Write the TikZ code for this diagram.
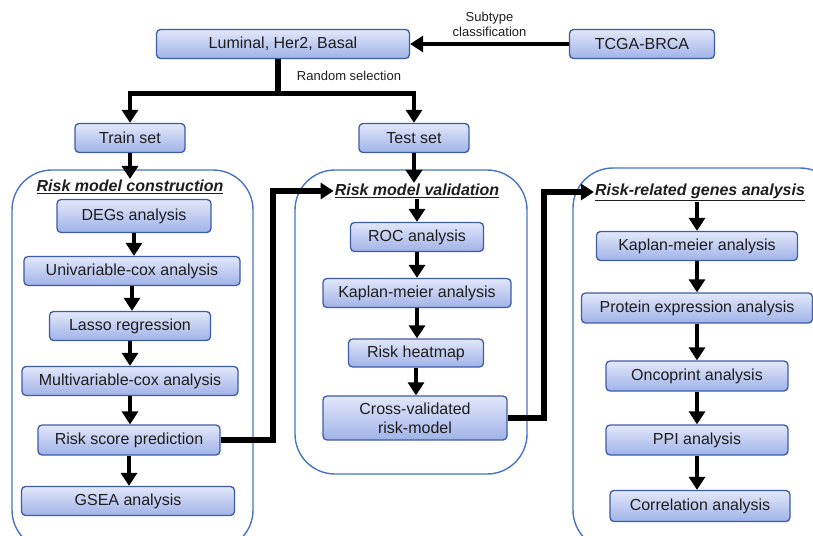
\documentclass[tikz,border=0pt]{standalone}
\usepackage{fontspec}
\setmainfont{Liberation Sans}
\usetikzlibrary{arrows.meta,positioning}
\definecolor{boxtop}{RGB}{226,232,250}
\definecolor{boxbot}{RGB}{160,178,232}
\definecolor{boxline}{RGB}{62,92,166}
\definecolor{frameblue}{RGB}{72,116,200}
\definecolor{txtgray}{RGB}{30,30,30}
\tikzset{
  stepbox/.style={rounded corners=4pt, draw=boxline, line width=1.3pt,
      top color=boxtop, bottom color=boxbot, inner sep=0pt,
      minimum height=29pt, text=txtgray, font=\fontsize{16}{19}\selectfont, align=center},
  framebox/.style={draw=frameblue, line width=1.4pt, rounded corners=40pt},
  headline/.style={font=\fontsize{16}{19}\selectfont\bfseries\itshape, text=txtgray, inner sep=1pt},
  smalltxt/.style={font=\fontsize{13}{15}\selectfont, text=txtgray},
  flowarrow/.style={-{Triangle[length=13pt,width=16pt]}, line width=4.8pt, black},
  elbowline/.style={line width=6pt, black}
}
\begin{document}
\begin{tikzpicture}[x=1pt, y=-1pt]
\useasboundingbox (0,0) rectangle (813,535);
\clip (0,0) rectangle (813,535);
% frames
\draw[framebox] (12,170) rectangle (253,550);
\draw[framebox] (295,170) rectangle (527,474);
\draw[framebox] (573,168) rectangle (840,550);

% top row
\node[stepbox, minimum width=253pt] (lum) at (283,44) {Luminal, Her2, Basal};
\node[stepbox, minimum width=145pt] (tcga) at (642,44) {TCGA-BRCA};
\node[stepbox, minimum width=110pt] (train) at (130,138) {Train set};
\node[stepbox, minimum width=110pt] (test) at (414,138) {Test set};

% construction
\node[headline] (hcon) at (130,187) {\underline{Risk model construction}};
\node[stepbox, minimum width=154pt, minimum height=33pt] (degs) at (134,216) {DEGs analysis};
\node[stepbox, minimum width=216pt] (univ) at (132,271) {Univariable-cox analysis};
\node[stepbox, minimum width=161pt] (lasso) at (130,326) {Lasso regression};
\node[stepbox, minimum width=216pt] (multi) at (130,381) {Multivariable-cox analysis};
\node[stepbox, minimum width=182pt, minimum height=30pt] (score) at (129,440) {Risk score prediction};
\node[stepbox, minimum width=213pt] (gsea) at (128,501) {GSEA analysis};

% validation
\node[headline] (hval) at (417,191) {\underline{Risk model validation}};
\node[stepbox, minimum width=133pt] (roc) at (417,237) {ROC analysis};
\node[stepbox, minimum width=188pt] (kmval) at (417,293) {Kaplan-meier analysis};
\node[stepbox, minimum width=135pt, minimum height=28pt] (heat) at (416,353) {Risk heatmap};
\node[stepbox, minimum width=184pt, minimum height=44pt] (cross) at (415,418) {Cross-validated\\risk-model};

% genes
\node[headline] (hgene) at (700,192) {\underline{Risk-related genes analysis}};
\node[stepbox, minimum width=201pt] (kmgene) at (697,246) {Kaplan-meier analysis};
\node[stepbox, minimum width=231pt, minimum height=30pt] (protein) at (697,308) {Protein expression analysis};
\node[stepbox, minimum width=182pt, minimum height=30pt] (onco) at (697,376) {Oncoprint analysis};
\node[stepbox, minimum width=182pt, minimum height=30pt] (ppi) at (697,440) {PPI analysis};
\node[stepbox, minimum width=180pt, minimum height=31pt] (corr) at (700,506) {Correlation analysis};

% connectors
\draw[flowarrow] (tcga.west) -- node[smalltxt, above=2pt, align=center]{Subtype\\classification} (lum.east);
\draw[elbowline] ([xshift=-5pt]lum.south) -- ++(0,34) coordinate (split);
\node[smalltxt] (rsel) at (349,76) {Random selection};
\draw[flowarrow] ([xshift=3pt]split) -| (train.north);
\draw[flowarrow] ([xshift=-3pt]split) -| (test.north);
\draw[flowarrow] (train.south) -- (train.south |- hcon.north);
\draw[flowarrow] (test.south) -- (test.south |- hval.north);

\foreach \a/\b in {degs/univ, univ/lasso, lasso/multi, multi/score, score/gsea,
                   roc/kmval, kmval/heat, heat/cross,
                   kmgene/protein, protein/onco, onco/ppi, ppi/corr}
  \draw[flowarrow] (\a.south -| \a.south) -- (\a.south |- \b.north);
\draw[flowarrow] (hval.south -| roc.north) -- (roc.north);
\draw[flowarrow] (hgene.south -| kmgene.north) -- (kmgene.north);

\draw[elbowline, -{Triangle[length=13pt,width=16pt]}] (score.east) -- ++(52,0) |- (hval.west);
\draw[elbowline, -{Triangle[length=13pt,width=16pt]}] (cross.east) -- ++(36,0) |- (hgene.west);
\end{tikzpicture}
\end{document}
